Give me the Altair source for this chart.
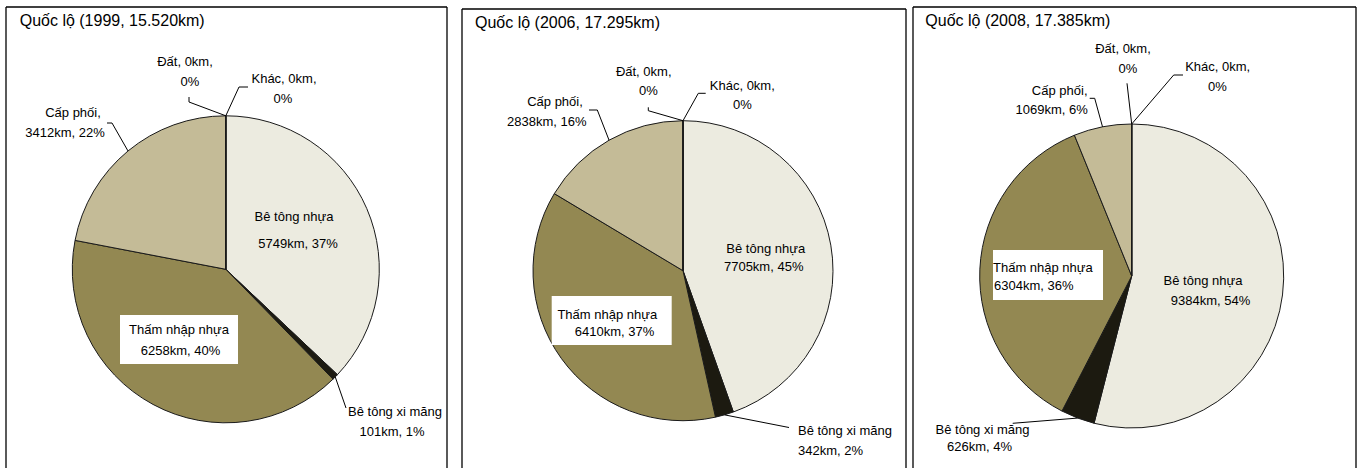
import math
import altair as alt
import pandas as pd

# ---------------- data ----------------
categories = ["Bê tông nhựa", "Bê tông xi măng", "Thấm nhập nhựa", "Cấp phối", "Đất", "Khác"]
years = [1999, 2006, 2008]
title_totals = ["15.520km", "17.295km", "17.385km"]
values_1999 = [5749, 101, 6258, 3412, 0, 0]
values_2006 = [7705, 342, 6410, 2838, 0, 0]
values_2008 = [9384, 626, 6304, 1069, 0, 0]
all_values = [values_1999, values_2006, values_2008]

# ---------------- styles ----------------
colors = ["#ECEBE0", "#1C1A10", "#938852", "#C4BB97", "#A89F7A", "#7A7560"]
FONT = "Liberation Sans"
LABEL_SIZE = 13
TITLE_SIZE = 16

# label split style: "name" / "Vkm, P%" ; "name," / "Vkm, P%" ; "name, Vkm," / "P%"
split_style = ["plain", "plain", "plain", "comma", "inline", "inline"]

# ---------------- layout (pixels inside each panel) ----------------
panels = [
    dict(width=456, L=6, R=447, T=7, cx=225.8, cy=269.3, r=153.5, title=(19.7, 21),
         labels={
             0: ((294, 217), (298, 244), "center"),
             1: ((395, 412), (392, 432), "center"),
             2: ((179, 330), (180.5, 351), "center"),
             3: ((73, 113), (65, 133), "center"),
             4: ((185, 62), (190, 82), "center"),
             5: ((284, 79), (283, 99), "center"),
         },
         leaders={1: [(346, 408)], 3: [(112, 123), (107, 123)],
                  4: [(189, 102), (189, 97)], 5: [(239, 87), (248, 87)]},
         box=(120, 315, 238, 364)),
    dict(width=453, L=6, R=450, T=9, cx=227, cy=270.7, r=150, title=(19, 23),
         labels={
             0: ((309.7, 249), (307.7, 266.7), "center"),
             1: ((342, 431), (342, 451), "left"),
             2: ((151.3, 315), (158.5, 332), "center"),
             3: ((99, 102), (90.8, 121.7), "center"),
             4: ((187.7, 71.7), (192.3, 91), "center"),
             5: ((286.3, 85.7), (286.3, 105), "center"),
         },
         leaders={1: [(333, 427.5)], 3: [(141.3, 110), (133, 110)],
                  4: [(192.3, 110.7), (192.3, 107.3)], 5: [(242.3, 93.3), (249.7, 93.3)]},
         box=(95.7, 296, 215.7, 345)),
    dict(width=453, L=4, R=447, T=7, cx=222.7, cy=276, r=152, title=(16.3, 20.7),
         labels={
             0: ((294, 281), (301.5, 301), "center"),
             1: ((73.5, 430), (70.5, 446.7), "center"),
             2: ((84, 268.3), (85, 285.7), "left"),
             3: ((150.7, 90.7), (142.7, 110), "center"),
             4: ((214, 49), (219, 69), "center"),
             5: ((308.7, 66.7), (308.3, 86.7), "center"),
         },
         leaders={1: [(103.7, 423.3)], 3: [(185.7, 98.3), (180.7, 98.3)],
                  4: [(218, 83.3)], 5: [(264.7, 75), (274, 75)]},
         box=(84, 250, 194, 300)),
]

H = 468


def px(field):
    return dict(field=field, type="quantitative", scale=None, axis=None)


def build_panel(i):
    vals = all_values[i]
    lay = panels[i]
    total = sum(vals)
    cx, cy, r = lay["cx"], lay["cy"], lay["r"]

    df = pd.DataFrame({"cat": categories, "value": vals, "idx": range(len(vals))})

    # slice mid angles from data
    cum = 0
    mids = []
    for v in vals:
        mids.append((cum + v / 2) / total * 2 * math.pi)
        cum += v

    # text rows
    trows = []
    for k, (cat, v) in enumerate(zip(categories, vals)):
        pct = round(v / total * 100)
        st = split_style[k]
        if st == "plain":
            l1, l2 = cat, f"{v}km, {pct}%"
        elif st == "comma":
            l1, l2 = f"{cat},", f"{v}km, {pct}%"
        else:
            l1, l2 = f"{cat}, {v}km,", f"{pct}%"
        (x1, y1), (x2, y2), al = lay["labels"][k]
        trows.append(dict(t=l1, x=x1, y=y1, al=al))
        trows.append(dict(t=l2, x=x2, y=y2, al=al))
    tdf = pd.DataFrame(trows)

    # leader lines: start on the slice edge at its mid angle
    lrows = []
    for k, pts in lay["leaders"].items():
        a = mids[k]
        start = (cx + r * math.sin(a), cy - r * math.cos(a))
        for j, p in enumerate([start] + pts):
            lrows.append(dict(lid=k, o=j, x=p[0], y=p[1]))
    ldf = pd.DataFrame(lrows)

    # panel frame (left, top, right; bottom runs off the page)
    L, R, T = lay["L"], lay["R"], lay["T"]
    fdf = pd.DataFrame([
        dict(x=L, x2=L, y=T, y2=H),
        dict(x=R, x2=R, y=T, y2=H),
        dict(x=L, x2=R, y=T, y2=T),
    ])
    frame = alt.Chart(fdf).mark_rule(color="#000", strokeWidth=1.3).encode(
        x=alt.X("x:Q", scale=None, axis=None), x2="x2:Q",
        y=alt.Y("y:Q", scale=None, axis=None), y2="y2:Q")

    arc = alt.Chart(df).mark_arc(x=cx, y=cy, radius=r, stroke="#1a1a1a", strokeWidth=1).encode(
        theta=alt.Theta("value:Q", stack=True),
        color=alt.Color("cat:N", scale=alt.Scale(domain=categories, range=colors), legend=None),
        order=alt.Order("idx:Q", sort="ascending"),
    )

    bx = lay["box"]
    bdf = pd.DataFrame([dict(x=bx[0], y=bx[1], x2=bx[2], y2=bx[3])])
    box = alt.Chart(bdf).mark_rect(fill="white", stroke=None).encode(
        x=alt.X("x:Q", scale=None, axis=None), x2="x2:Q",
        y=alt.Y("y:Q", scale=None, axis=None), y2="y2:Q")

    leaders = alt.Chart(ldf).mark_line(color="#000", strokeWidth=1).encode(
        x=alt.X("x:Q", scale=None, axis=None),
        y=alt.Y("y:Q", scale=None, axis=None),
        detail="lid:N", order="o:Q")

    layers = [frame, arc, box, leaders]
    for al in ["center", "left"]:
        sub = tdf[tdf["al"] == al]
        if len(sub):
            layers.append(alt.Chart(sub).mark_text(
                align=al, baseline="middle", font=FONT, fontSize=LABEL_SIZE, color="#000").encode(
                x=alt.X("x:Q", scale=None, axis=None),
                y=alt.Y("y:Q", scale=None, axis=None),
                text="t:N"))

    tx, ty = lay["title"]
    title = alt.Chart(pd.DataFrame([dict(t=f"Quốc lộ ({years[i]}, {title_totals[i]})", x=tx, y=ty)])).mark_text(
        align="left", baseline="middle", font=FONT, fontSize=TITLE_SIZE, color="#000").encode(
        x=alt.X("x:Q", scale=None, axis=None),
        y=alt.Y("y:Q", scale=None, axis=None),
        text="t:N")
    layers.append(title)

    return alt.layer(*layers).properties(width=lay["width"], height=H)


chart = alt.hconcat(*[build_panel(i) for i in range(3)], spacing=0, bounds="flush").resolve_scale(
    theta="independent"
).properties(
    padding=0, background="white"
).configure_view(stroke=None)

chart.save("out.html", embed_options={"renderer": "svg", "actions": False})
